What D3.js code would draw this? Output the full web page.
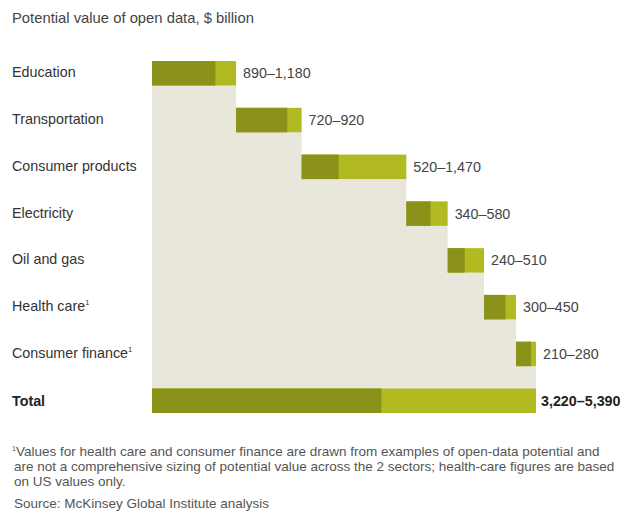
<!DOCTYPE html>
<html>
<head>
<meta charset="utf-8">
<script src="https://cdn.jsdelivr.net/npm/d3@7"></script>
<style>
  body { margin: 0; background: #fff; }
  svg text { font-family: "Liberation Sans", Arial, Helvetica, sans-serif; }
</style>
</head>
<body>
<div id="chart"></div>
<script>
// sectors, low and high estimates ($ billion)
const sectors = ["Education", "Transportation", "Consumer products", "Electricity", "Oil and gas", "Health care", "Consumer finance"];
const footnoted = [false, false, false, false, false, true, true];
const lows = [890, 720, 520, 340, 240, 300, 210];
const highs = [1180, 920, 1470, 580, 510, 450, 280];
const rangeLabels = ["890–1,180", "720–920", "520–1,470", "340–580", "240–510", "300–450", "210–280"];
const totalLow = 3220;
const totalHigh = 5390;
const totalLabel = "3,220–5,390";

const width = 629, height = 512;
const darkGreen = "#8a9219";
const lightGreen = "#b2ba21";
const beige = "#e9e6dc";

const svg = d3.select("#chart")
  .append("svg")
  .attr("width", width)
  .attr("height", height);

// cumulative start of each step
let run = 0;
const rows = sectors.map((name, i) => {
  const start = run;
  run += highs[i];
  return { name, i, start, low: lows[i], high: highs[i], end: run };
});

const x = d3.scaleLinear().domain([0, totalHigh]).range([152, 536]);
const y = d3.scaleBand()
  .domain(d3.range(sectors.length + 1))
  .range([47, 427])
  .paddingInner(0.476)
  .paddingOuter(0.3);
const bh = y.bandwidth();
const totalRow = sectors.length;

svg.append("text")
  .attr("x", 12)
  .attr("y", 23)
  .attr("font-size", "14.8px")
  .attr("fill", "#444")
  .text("Potential value of open data, $ billion");

// beige staircase under the steps
rows.forEach(d => {
  svg.append("rect")
    .attr("x", x(0))
    .attr("y", y(d.i) + bh)
    .attr("width", x(d.end) - x(0))
    .attr("height", y(totalRow) - (y(d.i) + bh))
    .attr("fill", beige);
});

// step bars
const g = svg.selectAll("g.step")
  .data(rows)
  .enter()
  .append("g")
  .attr("class", "step");

g.append("rect")
  .attr("x", d => x(d.start))
  .attr("y", d => y(d.i))
  .attr("width", d => x(d.start + d.high) - x(d.start))
  .attr("height", bh)
  .attr("fill", lightGreen);

g.append("rect")
  .attr("x", d => x(d.start))
  .attr("y", d => y(d.i))
  .attr("width", d => x(d.start + d.low) - x(d.start))
  .attr("height", bh)
  .attr("fill", darkGreen);

g.append("text")
  .attr("x", d => x(d.end) + 7)
  .attr("y", d => y(d.i) + bh / 2 + 5)
  .attr("font-size", "14.3px")
  .attr("fill", "#444")
  .text(d => rangeLabels[d.i]);

const names = g.append("text")
  .attr("x", 12)
  .attr("y", d => y(d.i) + bh / 2 + 4)
  .attr("font-size", "14.3px")
  .attr("fill", "#333")
  .text(d => d.name);

names.filter(d => footnoted[d.i])
  .append("tspan")
  .attr("font-size", "7.5px")
  .attr("dy", "-6")
  .text("1");

// total bar
svg.append("rect")
  .attr("x", x(0))
  .attr("y", y(totalRow))
  .attr("width", x(totalHigh) - x(0))
  .attr("height", bh)
  .attr("fill", lightGreen);

svg.append("rect")
  .attr("x", x(0))
  .attr("y", y(totalRow))
  .attr("width", x(totalLow) - x(0))
  .attr("height", bh)
  .attr("fill", darkGreen);

svg.append("text")
  .attr("x", 12)
  .attr("y", y(totalRow) + bh / 2 + 5)
  .attr("font-size", "14.3px")
  .attr("font-weight", "700")
  .attr("fill", "#222")
  .text("Total");

svg.append("text")
  .attr("x", x(totalHigh) + 5)
  .attr("y", y(totalRow) + bh / 2 + 5)
  .attr("font-size", "14.3px")
  .attr("font-weight", "700")
  .attr("fill", "#222")
  .text(totalLabel);

// footnotes
const notes = [
  "Values for health care and consumer finance are drawn from examples of open-data potential and",
  "are not a comprehensive sizing of potential value across the 2 sectors; health-care figures are based",
  "on US values only."
];
const fn = svg.append("g").attr("font-size", "13.5px").attr("fill", "#555");
const first = fn.append("text").attr("x", 12).attr("y", 456);
first.append("tspan").attr("font-size", "7px").attr("dy", "-5").text("1");
first.append("tspan").attr("dy", "5").text(notes[0]);
fn.append("text").attr("x", 14).attr("y", 471).text(notes[1]);
fn.append("text").attr("x", 14).attr("y", 486).text(notes[2]);
fn.append("text").attr("x", 14).attr("y", 507.5).text("Source: McKinsey Global Institute analysis");
</script>
</body>
</html>
